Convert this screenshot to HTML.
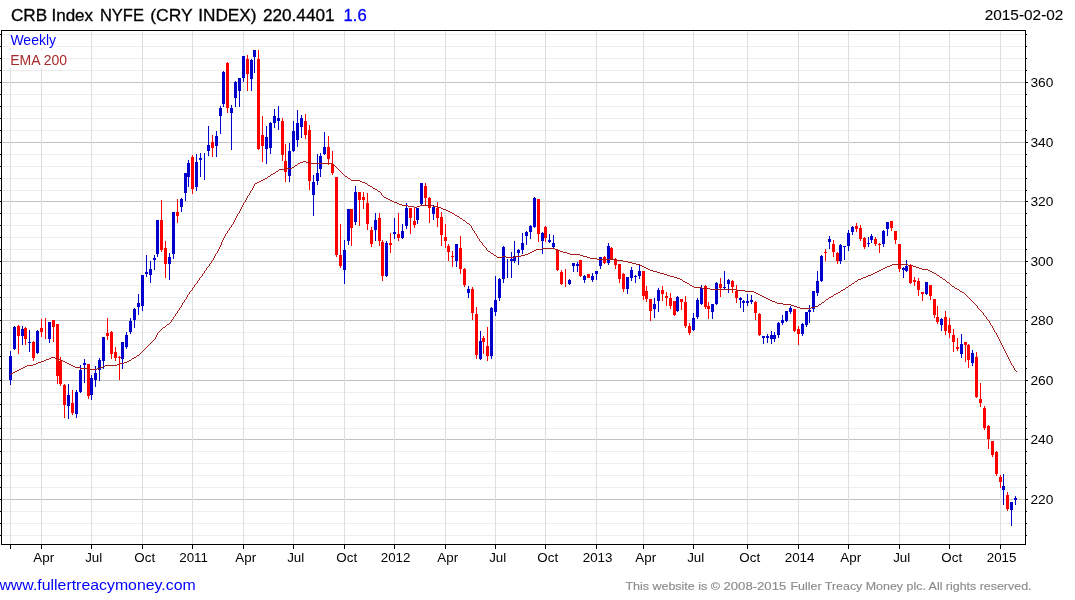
<!DOCTYPE html>
<html><head><meta charset="utf-8"><title>CRB Index NYFE (CRY INDEX)</title>
<style>html,body{margin:0;padding:0;background:#fff}body{width:1075px;height:600px;overflow:hidden;position:relative;font-family:"Liberation Sans",Arial,sans-serif}svg{position:absolute;left:0;top:0;display:block}text{font-family:"Liberation Sans",Arial,sans-serif}</style></head><body>
<svg width="1075" height="600" viewBox="0 0 1075 600">
<rect x="0" y="0" width="1075" height="600" fill="#fff"/>
<g shape-rendering="crispEdges">
<rect x="3" y="70" width="1021" height="1" fill="#ececec"/>
<rect x="3" y="58" width="1021" height="1" fill="#ececec"/>
<rect x="3" y="46" width="1021" height="1" fill="#ececec"/>
<rect x="3" y="34" width="1021" height="1" fill="#ececec"/>
<rect x="3" y="94" width="1021" height="1" fill="#ececec"/>
<rect x="3" y="106" width="1021" height="1" fill="#ececec"/>
<rect x="3" y="118" width="1021" height="1" fill="#ececec"/>
<rect x="3" y="130" width="1021" height="1" fill="#ececec"/>
<rect x="3" y="154" width="1021" height="1" fill="#ececec"/>
<rect x="3" y="166" width="1021" height="1" fill="#ececec"/>
<rect x="3" y="178" width="1021" height="1" fill="#ececec"/>
<rect x="3" y="190" width="1021" height="1" fill="#ececec"/>
<rect x="3" y="213" width="1021" height="1" fill="#ececec"/>
<rect x="3" y="225" width="1021" height="1" fill="#ececec"/>
<rect x="3" y="237" width="1021" height="1" fill="#ececec"/>
<rect x="3" y="249" width="1021" height="1" fill="#ececec"/>
<rect x="3" y="273" width="1021" height="1" fill="#ececec"/>
<rect x="3" y="285" width="1021" height="1" fill="#ececec"/>
<rect x="3" y="297" width="1021" height="1" fill="#ececec"/>
<rect x="3" y="309" width="1021" height="1" fill="#ececec"/>
<rect x="3" y="332" width="1021" height="1" fill="#ececec"/>
<rect x="3" y="344" width="1021" height="1" fill="#ececec"/>
<rect x="3" y="356" width="1021" height="1" fill="#ececec"/>
<rect x="3" y="368" width="1021" height="1" fill="#ececec"/>
<rect x="3" y="392" width="1021" height="1" fill="#ececec"/>
<rect x="3" y="404" width="1021" height="1" fill="#ececec"/>
<rect x="3" y="416" width="1021" height="1" fill="#ececec"/>
<rect x="3" y="428" width="1021" height="1" fill="#ececec"/>
<rect x="3" y="451" width="1021" height="1" fill="#ececec"/>
<rect x="3" y="463" width="1021" height="1" fill="#ececec"/>
<rect x="3" y="475" width="1021" height="1" fill="#ececec"/>
<rect x="3" y="487" width="1021" height="1" fill="#ececec"/>
<rect x="3" y="511" width="1021" height="1" fill="#ececec"/>
<rect x="3" y="523" width="1021" height="1" fill="#ececec"/>
<rect x="3" y="535" width="1021" height="1" fill="#ececec"/>
<rect x="2" y="82" width="1023" height="1" fill="#c2c2c2"/>
<rect x="2" y="142" width="1023" height="1" fill="#c2c2c2"/>
<rect x="2" y="201" width="1023" height="1" fill="#c2c2c2"/>
<rect x="2" y="261" width="1023" height="1" fill="#c2c2c2"/>
<rect x="2" y="320" width="1023" height="1" fill="#c2c2c2"/>
<rect x="2" y="380" width="1023" height="1" fill="#c2c2c2"/>
<rect x="2" y="439" width="1023" height="1" fill="#c2c2c2"/>
<rect x="2" y="499" width="1023" height="1" fill="#c2c2c2"/>
<rect x="10" y="31" width="1" height="513" fill="#dedede"/>
<rect x="41" y="31" width="1" height="513" fill="#dedede"/>
<rect x="91" y="31" width="1" height="513" fill="#dedede"/>
<rect x="142" y="31" width="1" height="513" fill="#dedede"/>
<rect x="192" y="31" width="1" height="513" fill="#dedede"/>
<rect x="243" y="31" width="1" height="513" fill="#dedede"/>
<rect x="293" y="31" width="1" height="513" fill="#dedede"/>
<rect x="344" y="31" width="1" height="513" fill="#dedede"/>
<rect x="394" y="31" width="1" height="513" fill="#dedede"/>
<rect x="445" y="31" width="1" height="513" fill="#dedede"/>
<rect x="495" y="31" width="1" height="513" fill="#dedede"/>
<rect x="545" y="31" width="1" height="513" fill="#dedede"/>
<rect x="596" y="31" width="1" height="513" fill="#dedede"/>
<rect x="643" y="31" width="1" height="513" fill="#dedede"/>
<rect x="693" y="31" width="1" height="513" fill="#dedede"/>
<rect x="747" y="31" width="1" height="513" fill="#dedede"/>
<rect x="798" y="31" width="1" height="513" fill="#dedede"/>
<rect x="848" y="31" width="1" height="513" fill="#dedede"/>
<rect x="899" y="31" width="1" height="513" fill="#dedede"/>
<rect x="949" y="31" width="1" height="513" fill="#dedede"/>
<rect x="1000" y="31" width="1" height="513" fill="#dedede"/>
</g>
<g shape-rendering="crispEdges">
<rect x="10" y="351" width="1" height="34" fill="#0000cd"/>
<rect x="9" y="356" width="3" height="24" fill="#0000cd"/>
<rect x="14" y="326" width="1" height="24" fill="#0000cd"/>
<rect x="13" y="327" width="3" height="22" fill="#0000cd"/>
<rect x="18" y="325" width="1" height="29" fill="#ff0000"/>
<rect x="17" y="326" width="3" height="10" fill="#ff0000"/>
<rect x="22" y="326" width="1" height="19" fill="#0000cd"/>
<rect x="21" y="329" width="3" height="7" fill="#0000cd"/>
<rect x="25" y="327" width="1" height="18" fill="#ff0000"/>
<rect x="24" y="328" width="3" height="11" fill="#ff0000"/>
<rect x="29" y="330" width="1" height="22" fill="#0000cd"/>
<rect x="28" y="342" width="3" height="1" fill="#0000cd"/>
<rect x="33" y="341" width="1" height="20" fill="#ff0000"/>
<rect x="32" y="342" width="3" height="16" fill="#ff0000"/>
<rect x="37" y="330" width="1" height="24" fill="#0000cd"/>
<rect x="36" y="331" width="3" height="22" fill="#0000cd"/>
<rect x="41" y="319" width="1" height="18" fill="#ff0000"/>
<rect x="40" y="328" width="3" height="4" fill="#ff0000"/>
<rect x="45" y="318" width="1" height="21" fill="#ff0000"/>
<rect x="49" y="322" width="1" height="21" fill="#0000cd"/>
<rect x="48" y="322" width="3" height="17" fill="#0000cd"/>
<rect x="53" y="320" width="1" height="22" fill="#ff0000"/>
<rect x="52" y="320" width="3" height="7" fill="#ff0000"/>
<rect x="57" y="324" width="1" height="60" fill="#ff0000"/>
<rect x="56" y="324" width="3" height="52" fill="#ff0000"/>
<rect x="60" y="357" width="1" height="29" fill="#ff0000"/>
<rect x="59" y="361" width="3" height="23" fill="#ff0000"/>
<rect x="64" y="384" width="1" height="34" fill="#ff0000"/>
<rect x="63" y="385" width="3" height="20" fill="#ff0000"/>
<rect x="68" y="384" width="1" height="35" fill="#0000cd"/>
<rect x="67" y="395" width="3" height="11" fill="#0000cd"/>
<rect x="72" y="390" width="1" height="25" fill="#ff0000"/>
<rect x="71" y="403" width="3" height="10" fill="#ff0000"/>
<rect x="76" y="390" width="1" height="28" fill="#0000cd"/>
<rect x="75" y="392" width="3" height="22" fill="#0000cd"/>
<rect x="80" y="365" width="1" height="28" fill="#0000cd"/>
<rect x="79" y="370" width="3" height="22" fill="#0000cd"/>
<rect x="84" y="359" width="1" height="24" fill="#0000cd"/>
<rect x="83" y="363" width="3" height="2" fill="#0000cd"/>
<rect x="88" y="364" width="1" height="35" fill="#ff0000"/>
<rect x="87" y="364" width="3" height="32" fill="#ff0000"/>
<rect x="91" y="375" width="1" height="25" fill="#0000cd"/>
<rect x="90" y="378" width="3" height="17" fill="#0000cd"/>
<rect x="95" y="366" width="1" height="21" fill="#0000cd"/>
<rect x="94" y="373" width="3" height="7" fill="#0000cd"/>
<rect x="99" y="358" width="1" height="23" fill="#0000cd"/>
<rect x="98" y="360" width="3" height="10" fill="#0000cd"/>
<rect x="103" y="337" width="1" height="32" fill="#0000cd"/>
<rect x="102" y="337" width="3" height="24" fill="#0000cd"/>
<rect x="107" y="318" width="1" height="22" fill="#ff0000"/>
<rect x="106" y="333" width="3" height="3" fill="#ff0000"/>
<rect x="111" y="331" width="1" height="28" fill="#ff0000"/>
<rect x="110" y="332" width="3" height="22" fill="#ff0000"/>
<rect x="115" y="347" width="1" height="14" fill="#ff0000"/>
<rect x="114" y="352" width="3" height="6" fill="#ff0000"/>
<rect x="119" y="356" width="1" height="24" fill="#ff0000"/>
<rect x="118" y="357" width="3" height="1" fill="#ff0000"/>
<rect x="122" y="342" width="1" height="27" fill="#0000cd"/>
<rect x="121" y="342" width="3" height="17" fill="#0000cd"/>
<rect x="126" y="332" width="1" height="17" fill="#0000cd"/>
<rect x="125" y="335" width="3" height="12" fill="#0000cd"/>
<rect x="130" y="318" width="1" height="16" fill="#0000cd"/>
<rect x="129" y="321" width="3" height="11" fill="#0000cd"/>
<rect x="134" y="308" width="1" height="20" fill="#0000cd"/>
<rect x="133" y="309" width="3" height="11" fill="#0000cd"/>
<rect x="138" y="294" width="1" height="21" fill="#0000cd"/>
<rect x="137" y="303" width="3" height="4" fill="#0000cd"/>
<rect x="142" y="275" width="1" height="36" fill="#0000cd"/>
<rect x="141" y="275" width="3" height="31" fill="#0000cd"/>
<rect x="146" y="255" width="1" height="22" fill="#0000cd"/>
<rect x="145" y="272" width="3" height="2" fill="#0000cd"/>
<rect x="150" y="261" width="1" height="22" fill="#0000cd"/>
<rect x="149" y="269" width="3" height="6" fill="#0000cd"/>
<rect x="154" y="255" width="1" height="15" fill="#0000cd"/>
<rect x="153" y="258" width="3" height="2" fill="#0000cd"/>
<rect x="157" y="220" width="1" height="37" fill="#0000cd"/>
<rect x="156" y="220" width="3" height="34" fill="#0000cd"/>
<rect x="161" y="200" width="1" height="52" fill="#ff0000"/>
<rect x="160" y="220" width="3" height="30" fill="#ff0000"/>
<rect x="165" y="241" width="1" height="37" fill="#ff0000"/>
<rect x="164" y="248" width="3" height="16" fill="#ff0000"/>
<rect x="169" y="253" width="1" height="27" fill="#0000cd"/>
<rect x="168" y="257" width="3" height="7" fill="#0000cd"/>
<rect x="173" y="212" width="1" height="47" fill="#0000cd"/>
<rect x="172" y="212" width="3" height="42" fill="#0000cd"/>
<rect x="177" y="199" width="1" height="24" fill="#ff0000"/>
<rect x="176" y="212" width="3" height="4" fill="#ff0000"/>
<rect x="181" y="198" width="1" height="14" fill="#0000cd"/>
<rect x="180" y="199" width="3" height="8" fill="#0000cd"/>
<rect x="185" y="173" width="1" height="28" fill="#0000cd"/>
<rect x="184" y="173" width="3" height="20" fill="#0000cd"/>
<rect x="188" y="160" width="1" height="27" fill="#0000cd"/>
<rect x="187" y="163" width="3" height="14" fill="#0000cd"/>
<rect x="192" y="155" width="1" height="39" fill="#ff0000"/>
<rect x="191" y="157" width="3" height="32" fill="#ff0000"/>
<rect x="196" y="154" width="1" height="37" fill="#0000cd"/>
<rect x="195" y="162" width="3" height="25" fill="#0000cd"/>
<rect x="200" y="153" width="1" height="24" fill="#0000cd"/>
<rect x="199" y="158" width="3" height="2" fill="#0000cd"/>
<rect x="204" y="153" width="1" height="27" fill="#0000cd"/>
<rect x="208" y="126" width="1" height="30" fill="#0000cd"/>
<rect x="207" y="145" width="3" height="6" fill="#0000cd"/>
<rect x="212" y="135" width="1" height="22" fill="#ff0000"/>
<rect x="211" y="142" width="3" height="6" fill="#ff0000"/>
<rect x="216" y="131" width="1" height="26" fill="#0000cd"/>
<rect x="215" y="136" width="3" height="10" fill="#0000cd"/>
<rect x="220" y="106" width="1" height="28" fill="#0000cd"/>
<rect x="219" y="108" width="3" height="8" fill="#0000cd"/>
<rect x="223" y="71" width="1" height="36" fill="#0000cd"/>
<rect x="222" y="72" width="3" height="32" fill="#0000cd"/>
<rect x="227" y="62" width="1" height="51" fill="#ff0000"/>
<rect x="226" y="63" width="3" height="45" fill="#ff0000"/>
<rect x="231" y="105" width="1" height="45" fill="#0000cd"/>
<rect x="230" y="108" width="3" height="5" fill="#0000cd"/>
<rect x="235" y="81" width="1" height="26" fill="#0000cd"/>
<rect x="234" y="82" width="3" height="16" fill="#0000cd"/>
<rect x="239" y="78" width="1" height="29" fill="#0000cd"/>
<rect x="238" y="78" width="3" height="13" fill="#0000cd"/>
<rect x="243" y="56" width="1" height="26" fill="#0000cd"/>
<rect x="242" y="56" width="3" height="22" fill="#0000cd"/>
<rect x="247" y="55" width="1" height="36" fill="#ff0000"/>
<rect x="246" y="59" width="3" height="15" fill="#ff0000"/>
<rect x="251" y="59" width="1" height="32" fill="#0000cd"/>
<rect x="250" y="60" width="3" height="19" fill="#0000cd"/>
<rect x="254" y="50" width="1" height="23" fill="#0000cd"/>
<rect x="253" y="50" width="3" height="7" fill="#0000cd"/>
<rect x="258" y="50" width="1" height="100" fill="#ff0000"/>
<rect x="257" y="59" width="3" height="90" fill="#ff0000"/>
<rect x="262" y="116" width="1" height="46" fill="#ff0000"/>
<rect x="261" y="135" width="3" height="11" fill="#ff0000"/>
<rect x="266" y="126" width="1" height="38" fill="#0000cd"/>
<rect x="265" y="137" width="3" height="12" fill="#0000cd"/>
<rect x="270" y="122" width="1" height="32" fill="#0000cd"/>
<rect x="269" y="123" width="3" height="25" fill="#0000cd"/>
<rect x="274" y="109" width="1" height="19" fill="#0000cd"/>
<rect x="273" y="116" width="3" height="7" fill="#0000cd"/>
<rect x="278" y="106" width="1" height="24" fill="#0000cd"/>
<rect x="277" y="118" width="3" height="3" fill="#0000cd"/>
<rect x="282" y="118" width="1" height="43" fill="#ff0000"/>
<rect x="281" y="121" width="3" height="34" fill="#ff0000"/>
<rect x="285" y="144" width="1" height="38" fill="#ff0000"/>
<rect x="284" y="161" width="3" height="11" fill="#ff0000"/>
<rect x="289" y="143" width="1" height="39" fill="#0000cd"/>
<rect x="288" y="151" width="3" height="25" fill="#0000cd"/>
<rect x="293" y="121" width="1" height="31" fill="#0000cd"/>
<rect x="292" y="131" width="3" height="20" fill="#0000cd"/>
<rect x="297" y="110" width="1" height="37" fill="#0000cd"/>
<rect x="296" y="123" width="3" height="17" fill="#0000cd"/>
<rect x="301" y="115" width="1" height="23" fill="#0000cd"/>
<rect x="300" y="118" width="3" height="9" fill="#0000cd"/>
<rect x="305" y="114" width="1" height="25" fill="#ff0000"/>
<rect x="304" y="121" width="3" height="14" fill="#ff0000"/>
<rect x="309" y="125" width="1" height="65" fill="#ff0000"/>
<rect x="308" y="130" width="3" height="51" fill="#ff0000"/>
<rect x="313" y="175" width="1" height="41" fill="#0000cd"/>
<rect x="312" y="182" width="3" height="13" fill="#0000cd"/>
<rect x="317" y="154" width="1" height="31" fill="#0000cd"/>
<rect x="316" y="173" width="3" height="8" fill="#0000cd"/>
<rect x="320" y="153" width="1" height="24" fill="#0000cd"/>
<rect x="319" y="156" width="3" height="13" fill="#0000cd"/>
<rect x="324" y="132" width="1" height="23" fill="#0000cd"/>
<rect x="323" y="147" width="3" height="7" fill="#0000cd"/>
<rect x="328" y="136" width="1" height="29" fill="#ff0000"/>
<rect x="327" y="147" width="3" height="12" fill="#ff0000"/>
<rect x="332" y="151" width="1" height="24" fill="#ff0000"/>
<rect x="331" y="164" width="3" height="9" fill="#ff0000"/>
<rect x="336" y="177" width="1" height="80" fill="#ff0000"/>
<rect x="335" y="177" width="3" height="78" fill="#ff0000"/>
<rect x="340" y="224" width="1" height="44" fill="#ff0000"/>
<rect x="339" y="255" width="3" height="11" fill="#ff0000"/>
<rect x="344" y="240" width="1" height="44" fill="#0000cd"/>
<rect x="343" y="250" width="3" height="20" fill="#0000cd"/>
<rect x="348" y="209" width="1" height="36" fill="#0000cd"/>
<rect x="347" y="209" width="3" height="32" fill="#0000cd"/>
<rect x="351" y="209" width="1" height="37" fill="#ff0000"/>
<rect x="350" y="209" width="3" height="19" fill="#ff0000"/>
<rect x="355" y="186" width="1" height="39" fill="#0000cd"/>
<rect x="354" y="192" width="3" height="30" fill="#0000cd"/>
<rect x="359" y="192" width="1" height="34" fill="#ff0000"/>
<rect x="358" y="192" width="3" height="8" fill="#ff0000"/>
<rect x="363" y="192" width="1" height="17" fill="#ff0000"/>
<rect x="362" y="197" width="3" height="3" fill="#ff0000"/>
<rect x="367" y="193" width="1" height="37" fill="#ff0000"/>
<rect x="366" y="203" width="3" height="21" fill="#ff0000"/>
<rect x="371" y="227" width="1" height="20" fill="#ff0000"/>
<rect x="370" y="230" width="3" height="14" fill="#ff0000"/>
<rect x="375" y="213" width="1" height="28" fill="#0000cd"/>
<rect x="374" y="220" width="3" height="10" fill="#0000cd"/>
<rect x="379" y="213" width="1" height="33" fill="#ff0000"/>
<rect x="378" y="218" width="3" height="23" fill="#ff0000"/>
<rect x="382" y="240" width="1" height="41" fill="#ff0000"/>
<rect x="381" y="242" width="3" height="34" fill="#ff0000"/>
<rect x="386" y="241" width="1" height="36" fill="#0000cd"/>
<rect x="385" y="243" width="3" height="33" fill="#0000cd"/>
<rect x="390" y="233" width="1" height="20" fill="#ff0000"/>
<rect x="389" y="243" width="3" height="2" fill="#ff0000"/>
<rect x="394" y="218" width="1" height="21" fill="#0000cd"/>
<rect x="393" y="232" width="3" height="2" fill="#0000cd"/>
<rect x="398" y="213" width="1" height="28" fill="#ff0000"/>
<rect x="397" y="234" width="3" height="4" fill="#ff0000"/>
<rect x="402" y="224" width="1" height="15" fill="#0000cd"/>
<rect x="401" y="231" width="3" height="7" fill="#0000cd"/>
<rect x="406" y="203" width="1" height="26" fill="#0000cd"/>
<rect x="405" y="208" width="3" height="18" fill="#0000cd"/>
<rect x="410" y="208" width="1" height="26" fill="#ff0000"/>
<rect x="409" y="208" width="3" height="10" fill="#ff0000"/>
<rect x="414" y="208" width="1" height="20" fill="#ff0000"/>
<rect x="413" y="221" width="3" height="4" fill="#ff0000"/>
<rect x="417" y="208" width="1" height="16" fill="#0000cd"/>
<rect x="416" y="208" width="3" height="12" fill="#0000cd"/>
<rect x="421" y="183" width="1" height="23" fill="#0000cd"/>
<rect x="420" y="183" width="3" height="21" fill="#0000cd"/>
<rect x="425" y="183" width="1" height="22" fill="#ff0000"/>
<rect x="424" y="186" width="3" height="12" fill="#ff0000"/>
<rect x="429" y="197" width="1" height="26" fill="#ff0000"/>
<rect x="428" y="198" width="3" height="10" fill="#ff0000"/>
<rect x="433" y="205" width="1" height="15" fill="#0000cd"/>
<rect x="432" y="207" width="3" height="7" fill="#0000cd"/>
<rect x="437" y="202" width="1" height="25" fill="#ff0000"/>
<rect x="436" y="208" width="3" height="10" fill="#ff0000"/>
<rect x="441" y="212" width="1" height="34" fill="#ff0000"/>
<rect x="440" y="217" width="3" height="18" fill="#ff0000"/>
<rect x="445" y="224" width="1" height="24" fill="#ff0000"/>
<rect x="444" y="237" width="3" height="4" fill="#ff0000"/>
<rect x="448" y="244" width="1" height="17" fill="#ff0000"/>
<rect x="447" y="246" width="3" height="6" fill="#ff0000"/>
<rect x="452" y="251" width="1" height="16" fill="#ff0000"/>
<rect x="451" y="256" width="3" height="1" fill="#ff0000"/>
<rect x="456" y="244" width="1" height="23" fill="#0000cd"/>
<rect x="455" y="244" width="3" height="17" fill="#0000cd"/>
<rect x="460" y="236" width="1" height="38" fill="#ff0000"/>
<rect x="459" y="248" width="3" height="21" fill="#ff0000"/>
<rect x="464" y="268" width="1" height="19" fill="#ff0000"/>
<rect x="463" y="269" width="3" height="16" fill="#ff0000"/>
<rect x="468" y="286" width="1" height="12" fill="#0000cd"/>
<rect x="467" y="289" width="3" height="4" fill="#0000cd"/>
<rect x="472" y="287" width="1" height="33" fill="#ff0000"/>
<rect x="471" y="289" width="3" height="24" fill="#ff0000"/>
<rect x="476" y="307" width="1" height="52" fill="#ff0000"/>
<rect x="475" y="314" width="3" height="41" fill="#ff0000"/>
<rect x="480" y="331" width="1" height="29" fill="#0000cd"/>
<rect x="479" y="341" width="3" height="18" fill="#0000cd"/>
<rect x="483" y="336" width="1" height="18" fill="#ff0000"/>
<rect x="482" y="338" width="3" height="4" fill="#ff0000"/>
<rect x="487" y="327" width="1" height="34" fill="#ff0000"/>
<rect x="486" y="346" width="3" height="10" fill="#ff0000"/>
<rect x="491" y="307" width="1" height="52" fill="#0000cd"/>
<rect x="490" y="308" width="3" height="48" fill="#0000cd"/>
<rect x="495" y="276" width="1" height="40" fill="#0000cd"/>
<rect x="494" y="300" width="3" height="12" fill="#0000cd"/>
<rect x="499" y="278" width="1" height="23" fill="#0000cd"/>
<rect x="498" y="279" width="3" height="19" fill="#0000cd"/>
<rect x="503" y="246" width="1" height="37" fill="#0000cd"/>
<rect x="502" y="247" width="3" height="32" fill="#0000cd"/>
<rect x="507" y="259" width="1" height="19" fill="#0000cd"/>
<rect x="511" y="252" width="1" height="26" fill="#0000cd"/>
<rect x="510" y="259" width="3" height="2" fill="#0000cd"/>
<rect x="514" y="241" width="1" height="22" fill="#0000cd"/>
<rect x="513" y="256" width="3" height="5" fill="#0000cd"/>
<rect x="518" y="249" width="1" height="16" fill="#0000cd"/>
<rect x="517" y="250" width="3" height="3" fill="#0000cd"/>
<rect x="522" y="233" width="1" height="21" fill="#0000cd"/>
<rect x="521" y="243" width="3" height="7" fill="#0000cd"/>
<rect x="526" y="231" width="1" height="14" fill="#0000cd"/>
<rect x="525" y="232" width="3" height="4" fill="#0000cd"/>
<rect x="530" y="225" width="1" height="14" fill="#0000cd"/>
<rect x="529" y="226" width="3" height="6" fill="#0000cd"/>
<rect x="534" y="197" width="1" height="31" fill="#0000cd"/>
<rect x="533" y="198" width="3" height="29" fill="#0000cd"/>
<rect x="538" y="199" width="1" height="43" fill="#ff0000"/>
<rect x="537" y="199" width="3" height="35" fill="#ff0000"/>
<rect x="542" y="232" width="1" height="22" fill="#0000cd"/>
<rect x="541" y="233" width="3" height="8" fill="#0000cd"/>
<rect x="545" y="226" width="1" height="16" fill="#ff0000"/>
<rect x="544" y="227" width="3" height="11" fill="#ff0000"/>
<rect x="549" y="234" width="1" height="9" fill="#0000cd"/>
<rect x="548" y="240" width="3" height="2" fill="#0000cd"/>
<rect x="553" y="235" width="1" height="13" fill="#0000cd"/>
<rect x="552" y="243" width="3" height="4" fill="#0000cd"/>
<rect x="557" y="249" width="1" height="22" fill="#ff0000"/>
<rect x="556" y="250" width="3" height="20" fill="#ff0000"/>
<rect x="561" y="270" width="1" height="15" fill="#ff0000"/>
<rect x="560" y="272" width="3" height="12" fill="#ff0000"/>
<rect x="565" y="269" width="1" height="18" fill="#ff0000"/>
<rect x="569" y="279" width="1" height="6" fill="#0000cd"/>
<rect x="568" y="280" width="3" height="4" fill="#0000cd"/>
<rect x="573" y="263" width="1" height="9" fill="#0000cd"/>
<rect x="572" y="263" width="3" height="3" fill="#0000cd"/>
<rect x="577" y="262" width="1" height="10" fill="#0000cd"/>
<rect x="576" y="264" width="3" height="2" fill="#0000cd"/>
<rect x="580" y="260" width="1" height="17" fill="#ff0000"/>
<rect x="579" y="260" width="3" height="16" fill="#ff0000"/>
<rect x="584" y="275" width="1" height="8" fill="#0000cd"/>
<rect x="583" y="276" width="3" height="4" fill="#0000cd"/>
<rect x="588" y="274" width="1" height="4" fill="#ff0000"/>
<rect x="587" y="274" width="3" height="4" fill="#ff0000"/>
<rect x="592" y="273" width="1" height="9" fill="#0000cd"/>
<rect x="591" y="276" width="3" height="4" fill="#0000cd"/>
<rect x="596" y="271" width="1" height="9" fill="#0000cd"/>
<rect x="595" y="271" width="3" height="3" fill="#0000cd"/>
<rect x="600" y="257" width="1" height="12" fill="#0000cd"/>
<rect x="599" y="257" width="3" height="9" fill="#0000cd"/>
<rect x="604" y="256" width="1" height="8" fill="#ff0000"/>
<rect x="603" y="257" width="3" height="6" fill="#ff0000"/>
<rect x="608" y="243" width="1" height="22" fill="#0000cd"/>
<rect x="607" y="246" width="3" height="17" fill="#0000cd"/>
<rect x="611" y="247" width="1" height="13" fill="#ff0000"/>
<rect x="610" y="248" width="3" height="11" fill="#ff0000"/>
<rect x="615" y="258" width="1" height="11" fill="#ff0000"/>
<rect x="614" y="259" width="3" height="6" fill="#ff0000"/>
<rect x="619" y="264" width="1" height="19" fill="#ff0000"/>
<rect x="618" y="264" width="3" height="15" fill="#ff0000"/>
<rect x="623" y="273" width="1" height="19" fill="#ff0000"/>
<rect x="622" y="274" width="3" height="15" fill="#ff0000"/>
<rect x="627" y="277" width="1" height="17" fill="#0000cd"/>
<rect x="626" y="277" width="3" height="12" fill="#0000cd"/>
<rect x="631" y="267" width="1" height="14" fill="#0000cd"/>
<rect x="630" y="270" width="3" height="8" fill="#0000cd"/>
<rect x="635" y="275" width="1" height="8" fill="#0000cd"/>
<rect x="634" y="276" width="3" height="1" fill="#0000cd"/>
<rect x="639" y="265" width="1" height="14" fill="#0000cd"/>
<rect x="638" y="271" width="3" height="5" fill="#0000cd"/>
<rect x="643" y="271" width="1" height="29" fill="#ff0000"/>
<rect x="642" y="271" width="3" height="25" fill="#ff0000"/>
<rect x="646" y="286" width="1" height="16" fill="#ff0000"/>
<rect x="645" y="291" width="3" height="8" fill="#ff0000"/>
<rect x="650" y="299" width="1" height="22" fill="#ff0000"/>
<rect x="649" y="299" width="3" height="12" fill="#ff0000"/>
<rect x="654" y="298" width="1" height="20" fill="#0000cd"/>
<rect x="653" y="304" width="3" height="5" fill="#0000cd"/>
<rect x="658" y="288" width="1" height="24" fill="#0000cd"/>
<rect x="657" y="290" width="3" height="11" fill="#0000cd"/>
<rect x="662" y="286" width="1" height="15" fill="#ff0000"/>
<rect x="661" y="290" width="3" height="4" fill="#ff0000"/>
<rect x="666" y="292" width="1" height="14" fill="#ff0000"/>
<rect x="665" y="296" width="3" height="2" fill="#ff0000"/>
<rect x="670" y="293" width="1" height="16" fill="#ff0000"/>
<rect x="669" y="298" width="3" height="8" fill="#ff0000"/>
<rect x="674" y="301" width="1" height="15" fill="#ff0000"/>
<rect x="673" y="301" width="3" height="14" fill="#ff0000"/>
<rect x="677" y="296" width="1" height="16" fill="#0000cd"/>
<rect x="676" y="297" width="3" height="14" fill="#0000cd"/>
<rect x="681" y="299" width="1" height="11" fill="#ff0000"/>
<rect x="680" y="299" width="3" height="3" fill="#ff0000"/>
<rect x="685" y="296" width="1" height="32" fill="#ff0000"/>
<rect x="684" y="302" width="3" height="24" fill="#ff0000"/>
<rect x="689" y="323" width="1" height="12" fill="#ff0000"/>
<rect x="688" y="326" width="3" height="7" fill="#ff0000"/>
<rect x="693" y="313" width="1" height="18" fill="#0000cd"/>
<rect x="692" y="318" width="3" height="12" fill="#0000cd"/>
<rect x="697" y="298" width="1" height="21" fill="#0000cd"/>
<rect x="696" y="300" width="3" height="17" fill="#0000cd"/>
<rect x="701" y="285" width="1" height="20" fill="#0000cd"/>
<rect x="700" y="288" width="3" height="16" fill="#0000cd"/>
<rect x="705" y="285" width="1" height="24" fill="#ff0000"/>
<rect x="704" y="286" width="3" height="21" fill="#ff0000"/>
<rect x="708" y="302" width="1" height="17" fill="#ff0000"/>
<rect x="707" y="306" width="3" height="3" fill="#ff0000"/>
<rect x="712" y="304" width="1" height="15" fill="#0000cd"/>
<rect x="711" y="304" width="3" height="8" fill="#0000cd"/>
<rect x="716" y="282" width="1" height="23" fill="#0000cd"/>
<rect x="715" y="283" width="3" height="21" fill="#0000cd"/>
<rect x="720" y="278" width="1" height="19" fill="#ff0000"/>
<rect x="719" y="284" width="3" height="4" fill="#ff0000"/>
<rect x="724" y="271" width="1" height="18" fill="#0000cd"/>
<rect x="723" y="287" width="3" height="1" fill="#0000cd"/>
<rect x="728" y="279" width="1" height="14" fill="#0000cd"/>
<rect x="727" y="280" width="3" height="4" fill="#0000cd"/>
<rect x="732" y="280" width="1" height="13" fill="#ff0000"/>
<rect x="731" y="281" width="3" height="6" fill="#ff0000"/>
<rect x="736" y="285" width="1" height="18" fill="#ff0000"/>
<rect x="735" y="291" width="3" height="7" fill="#ff0000"/>
<rect x="740" y="297" width="1" height="11" fill="#0000cd"/>
<rect x="739" y="298" width="3" height="2" fill="#0000cd"/>
<rect x="743" y="300" width="1" height="12" fill="#0000cd"/>
<rect x="742" y="301" width="3" height="2" fill="#0000cd"/>
<rect x="747" y="294" width="1" height="12" fill="#0000cd"/>
<rect x="746" y="301" width="3" height="2" fill="#0000cd"/>
<rect x="751" y="295" width="1" height="9" fill="#0000cd"/>
<rect x="750" y="300" width="3" height="2" fill="#0000cd"/>
<rect x="755" y="301" width="1" height="19" fill="#ff0000"/>
<rect x="754" y="302" width="3" height="11" fill="#ff0000"/>
<rect x="759" y="313" width="1" height="23" fill="#ff0000"/>
<rect x="758" y="314" width="3" height="21" fill="#ff0000"/>
<rect x="763" y="336" width="1" height="8" fill="#0000cd"/>
<rect x="762" y="336" width="3" height="2" fill="#0000cd"/>
<rect x="767" y="334" width="1" height="9" fill="#0000cd"/>
<rect x="766" y="336" width="3" height="2" fill="#0000cd"/>
<rect x="771" y="331" width="1" height="13" fill="#0000cd"/>
<rect x="770" y="335" width="3" height="4" fill="#0000cd"/>
<rect x="774" y="332" width="1" height="10" fill="#0000cd"/>
<rect x="773" y="335" width="3" height="4" fill="#0000cd"/>
<rect x="778" y="322" width="1" height="16" fill="#0000cd"/>
<rect x="777" y="323" width="3" height="12" fill="#0000cd"/>
<rect x="782" y="315" width="1" height="10" fill="#0000cd"/>
<rect x="781" y="320" width="3" height="3" fill="#0000cd"/>
<rect x="786" y="311" width="1" height="11" fill="#0000cd"/>
<rect x="785" y="311" width="3" height="10" fill="#0000cd"/>
<rect x="790" y="306" width="1" height="8" fill="#0000cd"/>
<rect x="789" y="308" width="3" height="4" fill="#0000cd"/>
<rect x="794" y="309" width="1" height="23" fill="#ff0000"/>
<rect x="793" y="309" width="3" height="22" fill="#ff0000"/>
<rect x="798" y="326" width="1" height="19" fill="#ff0000"/>
<rect x="797" y="329" width="3" height="5" fill="#ff0000"/>
<rect x="802" y="323" width="1" height="13" fill="#0000cd"/>
<rect x="801" y="324" width="3" height="10" fill="#0000cd"/>
<rect x="806" y="312" width="1" height="15" fill="#0000cd"/>
<rect x="805" y="312" width="3" height="13" fill="#0000cd"/>
<rect x="809" y="305" width="1" height="18" fill="#0000cd"/>
<rect x="808" y="310" width="3" height="2" fill="#0000cd"/>
<rect x="813" y="291" width="1" height="21" fill="#0000cd"/>
<rect x="812" y="291" width="3" height="18" fill="#0000cd"/>
<rect x="817" y="271" width="1" height="25" fill="#0000cd"/>
<rect x="816" y="281" width="3" height="12" fill="#0000cd"/>
<rect x="821" y="255" width="1" height="27" fill="#0000cd"/>
<rect x="820" y="256" width="3" height="25" fill="#0000cd"/>
<rect x="825" y="249" width="1" height="12" fill="#ff0000"/>
<rect x="824" y="252" width="3" height="1" fill="#ff0000"/>
<rect x="829" y="236" width="1" height="13" fill="#0000cd"/>
<rect x="828" y="239" width="3" height="3" fill="#0000cd"/>
<rect x="833" y="240" width="1" height="17" fill="#ff0000"/>
<rect x="832" y="244" width="3" height="8" fill="#ff0000"/>
<rect x="837" y="252" width="1" height="12" fill="#ff0000"/>
<rect x="836" y="253" width="3" height="8" fill="#ff0000"/>
<rect x="840" y="244" width="1" height="20" fill="#0000cd"/>
<rect x="839" y="245" width="3" height="16" fill="#0000cd"/>
<rect x="844" y="246" width="1" height="14" fill="#0000cd"/>
<rect x="843" y="246" width="3" height="1" fill="#0000cd"/>
<rect x="848" y="230" width="1" height="21" fill="#0000cd"/>
<rect x="847" y="233" width="3" height="13" fill="#0000cd"/>
<rect x="852" y="226" width="1" height="9" fill="#0000cd"/>
<rect x="851" y="227" width="3" height="5" fill="#0000cd"/>
<rect x="856" y="223" width="1" height="9" fill="#ff0000"/>
<rect x="855" y="226" width="3" height="3" fill="#ff0000"/>
<rect x="860" y="225" width="1" height="16" fill="#ff0000"/>
<rect x="859" y="228" width="3" height="11" fill="#ff0000"/>
<rect x="864" y="237" width="1" height="12" fill="#ff0000"/>
<rect x="863" y="238" width="3" height="9" fill="#ff0000"/>
<rect x="868" y="237" width="1" height="10" fill="#0000cd"/>
<rect x="867" y="243" width="3" height="1" fill="#0000cd"/>
<rect x="871" y="234" width="1" height="9" fill="#0000cd"/>
<rect x="870" y="236" width="3" height="4" fill="#0000cd"/>
<rect x="875" y="237" width="1" height="9" fill="#ff0000"/>
<rect x="874" y="239" width="3" height="5" fill="#ff0000"/>
<rect x="879" y="243" width="1" height="10" fill="#ff0000"/>
<rect x="878" y="244" width="3" height="1" fill="#ff0000"/>
<rect x="883" y="230" width="1" height="17" fill="#0000cd"/>
<rect x="882" y="231" width="3" height="13" fill="#0000cd"/>
<rect x="887" y="222" width="1" height="14" fill="#0000cd"/>
<rect x="886" y="222" width="3" height="7" fill="#0000cd"/>
<rect x="891" y="221" width="1" height="10" fill="#ff0000"/>
<rect x="890" y="221" width="3" height="7" fill="#ff0000"/>
<rect x="895" y="231" width="1" height="13" fill="#ff0000"/>
<rect x="894" y="231" width="3" height="9" fill="#ff0000"/>
<rect x="899" y="244" width="1" height="28" fill="#ff0000"/>
<rect x="898" y="244" width="3" height="25" fill="#ff0000"/>
<rect x="903" y="267" width="1" height="11" fill="#0000cd"/>
<rect x="902" y="268" width="3" height="2" fill="#0000cd"/>
<rect x="906" y="260" width="1" height="12" fill="#0000cd"/>
<rect x="905" y="266" width="3" height="5" fill="#0000cd"/>
<rect x="910" y="264" width="1" height="20" fill="#ff0000"/>
<rect x="909" y="265" width="3" height="18" fill="#ff0000"/>
<rect x="914" y="277" width="1" height="9" fill="#ff0000"/>
<rect x="913" y="280" width="3" height="2" fill="#ff0000"/>
<rect x="918" y="278" width="1" height="18" fill="#ff0000"/>
<rect x="917" y="281" width="3" height="9" fill="#ff0000"/>
<rect x="922" y="292" width="1" height="9" fill="#ff0000"/>
<rect x="921" y="292" width="3" height="2" fill="#ff0000"/>
<rect x="926" y="282" width="1" height="13" fill="#0000cd"/>
<rect x="925" y="282" width="3" height="12" fill="#0000cd"/>
<rect x="930" y="285" width="1" height="15" fill="#ff0000"/>
<rect x="929" y="285" width="3" height="11" fill="#ff0000"/>
<rect x="934" y="299" width="1" height="19" fill="#ff0000"/>
<rect x="933" y="299" width="3" height="16" fill="#ff0000"/>
<rect x="937" y="306" width="1" height="18" fill="#ff0000"/>
<rect x="936" y="317" width="3" height="5" fill="#ff0000"/>
<rect x="941" y="318" width="1" height="13" fill="#0000cd"/>
<rect x="940" y="319" width="3" height="6" fill="#0000cd"/>
<rect x="945" y="311" width="1" height="24" fill="#ff0000"/>
<rect x="944" y="317" width="3" height="14" fill="#ff0000"/>
<rect x="949" y="318" width="1" height="20" fill="#ff0000"/>
<rect x="948" y="325" width="3" height="8" fill="#ff0000"/>
<rect x="953" y="329" width="1" height="23" fill="#ff0000"/>
<rect x="952" y="335" width="3" height="7" fill="#ff0000"/>
<rect x="957" y="338" width="1" height="13" fill="#ff0000"/>
<rect x="956" y="347" width="3" height="2" fill="#ff0000"/>
<rect x="961" y="334" width="1" height="24" fill="#0000cd"/>
<rect x="960" y="344" width="3" height="10" fill="#0000cd"/>
<rect x="965" y="342" width="1" height="20" fill="#ff0000"/>
<rect x="964" y="342" width="3" height="3" fill="#ff0000"/>
<rect x="968" y="344" width="1" height="24" fill="#ff0000"/>
<rect x="967" y="345" width="3" height="15" fill="#ff0000"/>
<rect x="972" y="350" width="1" height="16" fill="#0000cd"/>
<rect x="971" y="353" width="3" height="10" fill="#0000cd"/>
<rect x="976" y="352" width="1" height="46" fill="#ff0000"/>
<rect x="975" y="357" width="3" height="40" fill="#ff0000"/>
<rect x="980" y="383" width="1" height="24" fill="#ff0000"/>
<rect x="979" y="399" width="3" height="4" fill="#ff0000"/>
<rect x="984" y="406" width="1" height="24" fill="#ff0000"/>
<rect x="983" y="408" width="3" height="20" fill="#ff0000"/>
<rect x="988" y="425" width="1" height="24" fill="#ff0000"/>
<rect x="987" y="426" width="3" height="13" fill="#ff0000"/>
<rect x="992" y="441" width="1" height="16" fill="#ff0000"/>
<rect x="991" y="441" width="3" height="14" fill="#ff0000"/>
<rect x="996" y="451" width="1" height="25" fill="#ff0000"/>
<rect x="995" y="452" width="3" height="22" fill="#ff0000"/>
<rect x="1000" y="475" width="1" height="13" fill="#ff0000"/>
<rect x="999" y="477" width="3" height="5" fill="#ff0000"/>
<rect x="1003" y="474" width="1" height="31" fill="#0000cd"/>
<rect x="1002" y="486" width="3" height="4" fill="#0000cd"/>
<rect x="1007" y="492" width="1" height="19" fill="#ff0000"/>
<rect x="1006" y="495" width="3" height="14" fill="#ff0000"/>
<rect x="1011" y="502" width="1" height="24" fill="#0000cd"/>
<rect x="1010" y="502" width="3" height="8" fill="#0000cd"/>
<rect x="1015" y="496" width="1" height="9" fill="#0000cd"/>
<rect x="1014" y="498" width="3" height="2" fill="#0000cd"/>
</g>
<path d="M10 374h1v1h-1zM11 373h1v1h-1zM12 373h1v1h-1zM13 372h1v1h-1zM14 372h1v1h-1zM15 371h1v1h-1zM16 371h1v1h-1zM17 370h1v1h-1zM18 370h1v1h-1zM19 369h1v1h-1zM20 369h1v1h-1zM21 368h1v1h-1zM22 368h1v1h-1zM23 367h1v1h-1zM24 367h1v1h-1zM25 366h1v1h-1zM26 366h1v1h-1zM27 365h1v1h-1zM28 365h1v1h-1zM29 365h1v1h-1zM30 365h1v1h-1zM31 365h1v1h-1zM32 365h1v1h-1zM33 364h1v1h-1zM34 364h1v1h-1zM35 364h1v1h-1zM36 363h1v1h-1zM37 363h1v1h-1zM38 362h1v1h-1zM39 362h1v1h-1zM40 362h1v1h-1zM41 361h1v1h-1zM42 361h1v1h-1zM43 361h1v1h-1zM44 360h1v1h-1zM45 360h1v1h-1zM46 359h1v1h-1zM47 359h1v1h-1zM48 359h1v1h-1zM49 358h1v1h-1zM50 358h1v1h-1zM51 357h1v1h-1zM52 357h1v1h-1zM53 357h1v1h-1zM54 357h1v1h-1zM55 358h1v1h-1zM56 358h1v1h-1zM57 358h1v1h-1zM58 358h1v1h-1zM59 359h1v1h-1zM60 359h1v1h-1zM61 360h1v1h-1zM62 360h1v1h-1zM63 361h1v1h-1zM64 361h1v1h-1zM65 362h1v1h-1zM66 362h1v1h-1zM67 363h1v1h-1zM68 363h1v1h-1zM69 364h1v1h-1zM70 364h1v1h-1zM71 365h1v1h-1zM72 365h1v1h-1zM73 366h1v1h-1zM74 366h1v1h-1zM75 367h1v1h-1zM76 367h1v1h-1zM77 367h1v1h-1zM78 367h1v1h-1zM79 367h1v1h-1zM80 368h1v1h-1zM81 368h1v1h-1zM82 368h1v1h-1zM83 368h1v1h-1zM84 368h1v1h-1zM85 368h1v1h-1zM86 368h1v1h-1zM87 368h1v1h-1zM88 369h1v1h-1zM89 369h1v1h-1zM90 369h1v1h-1zM91 369h1v1h-1zM92 369h1v1h-1zM93 369h1v1h-1zM94 369h1v1h-1zM95 369h1v1h-1zM96 369h1v1h-1zM97 368h1v1h-1zM98 368h1v1h-1zM99 368h1v1h-1zM100 367h1v1h-1zM101 367h1v1h-1zM102 367h1v1h-1zM103 366h1v1h-1zM104 366h1v1h-1zM105 365h1v1h-1zM106 365h1v1h-1zM107 365h1v1h-1zM108 365h1v1h-1zM109 365h1v1h-1zM110 365h1v1h-1zM111 365h1v1h-1zM112 365h1v1h-1zM113 365h1v1h-1zM114 365h1v1h-1zM115 365h1v1h-1zM116 365h1v1h-1zM117 364h1v1h-1zM118 364h1v1h-1zM119 364h1v1h-1zM120 363h1v1h-1zM121 363h1v1h-1zM122 363h1v1h-1zM123 363h1v1h-1zM124 362h1v1h-1zM125 362h1v1h-1zM126 362h1v1h-1zM127 361h1v1h-1zM128 361h1v1h-1zM129 360h1v1h-1zM130 360h1v1h-1zM131 359h1v1h-1zM132 358h1v1h-1zM133 358h1v1h-1zM134 357h1v1h-1zM135 357h1v1h-1zM136 356h1v1h-1zM137 355h1v1h-1zM138 355h1v1h-1zM139 354h1v1h-1zM140 353h1v1h-1zM141 352h1v1h-1zM142 351h1v1h-1zM143 350h1v1h-1zM144 349h1v1h-1zM145 348h1v1h-1zM146 347h1v1h-1zM147 346h1v1h-1zM148 345h1v1h-1zM149 344h1v1h-1zM150 343h1v1h-1zM151 342h1v1h-1zM152 341h1v1h-1zM153 340h1v1h-1zM154 339h1v1h-1zM155 337h1v2h-1zM156 335h1v2h-1zM157 333h1v2h-1zM158 332h1v1h-1zM159 331h1v1h-1zM160 330h1v1h-1zM161 329h1v1h-1zM162 328h1v1h-1zM163 327h1v1h-1zM164 327h1v1h-1zM165 326h1v1h-1zM166 325h1v1h-1zM167 324h1v1h-1zM168 324h1v1h-1zM169 323h1v1h-1zM170 322h1v1h-1zM171 320h1v2h-1zM172 319h1v1h-1zM173 317h1v2h-1zM174 316h1v1h-1zM175 314h1v2h-1zM176 313h1v1h-1zM177 311h1v2h-1zM178 310h1v1h-1zM179 308h1v2h-1zM180 307h1v1h-1zM181 305h1v2h-1zM182 303h1v2h-1zM183 302h1v1h-1zM184 300h1v2h-1zM185 299h1v1h-1zM186 297h1v2h-1zM187 295h1v2h-1zM188 294h1v1h-1zM189 292h1v2h-1zM190 291h1v1h-1zM191 290h1v1h-1zM192 288h1v2h-1zM193 287h1v1h-1zM194 285h1v2h-1zM195 284h1v1h-1zM196 283h1v1h-1zM197 281h1v2h-1zM198 280h1v1h-1zM199 278h1v2h-1zM200 277h1v1h-1zM201 276h1v1h-1zM202 274h1v2h-1zM203 273h1v1h-1zM204 271h1v2h-1zM205 270h1v1h-1zM206 268h1v2h-1zM207 267h1v1h-1zM208 266h1v1h-1zM209 264h1v2h-1zM210 263h1v1h-1zM211 261h1v2h-1zM212 260h1v1h-1zM213 258h1v2h-1zM214 256h1v2h-1zM215 254h1v2h-1zM216 253h1v1h-1zM217 251h1v2h-1zM218 249h1v2h-1zM219 247h1v2h-1zM220 245h1v2h-1zM221 242h1v3h-1zM222 240h1v2h-1zM223 238h1v2h-1zM224 236h1v2h-1zM225 234h1v2h-1zM226 233h1v1h-1zM227 231h1v2h-1zM228 230h1v1h-1zM229 228h1v2h-1zM230 227h1v1h-1zM231 225h1v2h-1zM232 224h1v1h-1zM233 222h1v2h-1zM234 220h1v2h-1zM235 218h1v2h-1zM236 216h1v2h-1zM237 214h1v2h-1zM238 213h1v1h-1zM239 211h1v2h-1zM240 209h1v2h-1zM241 207h1v2h-1zM242 205h1v2h-1zM243 203h1v2h-1zM244 202h1v1h-1zM245 200h1v2h-1zM246 198h1v2h-1zM247 196h1v2h-1zM248 195h1v1h-1zM249 193h1v2h-1zM250 191h1v2h-1zM251 190h1v1h-1zM252 188h1v2h-1zM253 186h1v2h-1zM254 184h1v2h-1zM255 183h1v1h-1zM256 183h1v1h-1zM257 182h1v1h-1zM258 182h1v1h-1zM259 181h1v1h-1zM260 181h1v1h-1zM261 180h1v1h-1zM262 180h1v1h-1zM263 179h1v1h-1zM264 179h1v1h-1zM265 178h1v1h-1zM266 178h1v1h-1zM267 177h1v1h-1zM268 176h1v1h-1zM269 176h1v1h-1zM270 175h1v1h-1zM271 174h1v1h-1zM272 174h1v1h-1zM273 173h1v1h-1zM274 173h1v1h-1zM275 172h1v1h-1zM276 171h1v1h-1zM277 171h1v1h-1zM278 170h1v1h-1zM279 169h1v1h-1zM280 169h1v1h-1zM281 169h1v1h-1zM282 169h1v1h-1zM283 169h1v1h-1zM284 169h1v1h-1zM285 168h1v1h-1zM286 168h1v1h-1zM287 168h1v1h-1zM288 168h1v1h-1zM289 168h1v1h-1zM290 168h1v1h-1zM291 168h1v1h-1zM292 167h1v1h-1zM293 167h1v1h-1zM294 166h1v1h-1zM295 165h1v1h-1zM296 165h1v1h-1zM297 164h1v1h-1zM298 163h1v1h-1zM299 163h1v1h-1zM300 162h1v1h-1zM301 162h1v1h-1zM302 162h1v1h-1zM303 161h1v1h-1zM304 161h1v1h-1zM305 161h1v1h-1zM306 162h1v1h-1zM307 162h1v1h-1zM308 162h1v1h-1zM309 162h1v1h-1zM310 163h1v1h-1zM311 163h1v1h-1zM312 163h1v1h-1zM313 163h1v1h-1zM314 163h1v1h-1zM315 163h1v1h-1zM316 163h1v1h-1zM317 163h1v1h-1zM318 163h1v1h-1zM319 163h1v1h-1zM320 163h1v1h-1zM321 163h1v1h-1zM322 163h1v1h-1zM323 163h1v1h-1zM324 163h1v1h-1zM325 163h1v1h-1zM326 163h1v1h-1zM327 163h1v1h-1zM328 163h1v1h-1zM329 163h1v1h-1zM330 163h1v1h-1zM331 163h1v1h-1zM332 164h1v1h-1zM333 164h1v1h-1zM334 165h1v1h-1zM335 166h1v1h-1zM336 167h1v1h-1zM337 168h1v1h-1zM338 169h1v1h-1zM339 170h1v1h-1zM340 171h1v1h-1zM341 172h1v1h-1zM342 173h1v1h-1zM343 174h1v1h-1zM344 175h1v1h-1zM345 176h1v1h-1zM346 176h1v1h-1zM347 177h1v1h-1zM348 178h1v1h-1zM349 178h1v1h-1zM350 179h1v1h-1zM351 180h1v1h-1zM352 180h1v1h-1zM353 180h1v1h-1zM354 180h1v1h-1zM355 180h1v1h-1zM356 180h1v1h-1zM357 180h1v1h-1zM358 180h1v1h-1zM359 180h1v1h-1zM360 181h1v1h-1zM361 181h1v1h-1zM362 182h1v1h-1zM363 182h1v1h-1zM364 182h1v1h-1zM365 183h1v1h-1zM366 183h1v1h-1zM367 184h1v1h-1zM368 185h1v1h-1zM369 185h1v1h-1zM370 186h1v1h-1zM371 186h1v1h-1zM372 187h1v1h-1zM373 188h1v1h-1zM374 188h1v1h-1zM375 189h1v1h-1zM376 189h1v1h-1zM377 190h1v1h-1zM378 191h1v1h-1zM379 191h1v1h-1zM380 192h1v1h-1zM381 193h1v2h-1zM382 195h1v1h-1zM383 196h1v1h-1zM384 197h1v1h-1zM385 197h1v1h-1zM386 198h1v1h-1zM387 198h1v1h-1zM388 199h1v1h-1zM389 199h1v1h-1zM390 200h1v1h-1zM391 200h1v1h-1zM392 201h1v1h-1zM393 201h1v1h-1zM394 202h1v1h-1zM395 202h1v1h-1zM396 202h1v1h-1zM397 203h1v1h-1zM398 203h1v1h-1zM399 204h1v1h-1zM400 204h1v1h-1zM401 204h1v1h-1zM402 205h1v1h-1zM403 205h1v1h-1zM404 205h1v1h-1zM405 205h1v1h-1zM406 205h1v1h-1zM407 205h1v1h-1zM408 206h1v1h-1zM409 206h1v1h-1zM410 206h1v1h-1zM411 206h1v1h-1zM412 206h1v1h-1zM413 206h1v1h-1zM414 207h1v1h-1zM415 207h1v1h-1zM416 207h1v1h-1zM417 206h1v1h-1zM418 206h1v1h-1zM419 206h1v1h-1zM420 205h1v1h-1zM421 205h1v1h-1zM422 205h1v1h-1zM423 205h1v1h-1zM424 205h1v1h-1zM425 205h1v1h-1zM426 205h1v1h-1zM427 205h1v1h-1zM428 205h1v1h-1zM429 205h1v1h-1zM430 205h1v1h-1zM431 205h1v1h-1zM432 205h1v1h-1zM433 206h1v1h-1zM434 206h1v1h-1zM435 206h1v1h-1zM436 206h1v1h-1zM437 206h1v1h-1zM438 207h1v1h-1zM439 207h1v1h-1zM440 207h1v1h-1zM441 208h1v1h-1zM442 208h1v1h-1zM443 209h1v1h-1zM444 209h1v1h-1zM445 209h1v1h-1zM446 210h1v1h-1zM447 210h1v1h-1zM448 211h1v1h-1zM449 211h1v1h-1zM450 212h1v1h-1zM451 212h1v1h-1zM452 213h1v1h-1zM453 213h1v1h-1zM454 214h1v1h-1zM455 215h1v1h-1zM456 215h1v1h-1zM457 216h1v1h-1zM458 216h1v1h-1zM459 217h1v1h-1zM460 218h1v1h-1zM461 218h1v1h-1zM462 219h1v1h-1zM463 220h1v1h-1zM464 220h1v1h-1zM465 221h1v1h-1zM466 222h1v1h-1zM467 223h1v1h-1zM468 223h1v1h-1zM469 224h1v1h-1zM470 225h1v1h-1zM471 226h1v2h-1zM472 228h1v2h-1zM473 230h1v1h-1zM474 231h1v2h-1zM475 233h1v1h-1zM476 234h1v2h-1zM477 236h1v2h-1zM478 238h1v1h-1zM479 239h1v2h-1zM480 241h1v1h-1zM481 242h1v1h-1zM482 243h1v2h-1zM483 245h1v1h-1zM484 246h1v1h-1zM485 247h1v1h-1zM486 248h1v2h-1zM487 250h1v1h-1zM488 251h1v1h-1zM489 251h1v1h-1zM490 252h1v1h-1zM491 253h1v1h-1zM492 253h1v1h-1zM493 254h1v1h-1zM494 255h1v1h-1zM495 255h1v1h-1zM496 256h1v1h-1zM497 257h1v1h-1zM498 257h1v1h-1zM499 257h1v1h-1zM500 257h1v1h-1zM501 257h1v1h-1zM502 256h1v1h-1zM503 256h1v1h-1zM504 256h1v1h-1zM505 256h1v1h-1zM506 257h1v1h-1zM507 257h1v1h-1zM508 257h1v1h-1zM509 257h1v1h-1zM510 257h1v1h-1zM511 257h1v1h-1zM512 257h1v1h-1zM513 257h1v1h-1zM514 256h1v1h-1zM515 256h1v1h-1zM516 256h1v1h-1zM517 256h1v1h-1zM518 256h1v1h-1zM519 256h1v1h-1zM520 256h1v1h-1zM521 255h1v1h-1zM522 255h1v1h-1zM523 255h1v1h-1zM524 255h1v1h-1zM525 254h1v1h-1zM526 254h1v1h-1zM527 254h1v1h-1zM528 253h1v1h-1zM529 253h1v1h-1zM530 252h1v1h-1zM531 252h1v1h-1zM532 251h1v1h-1zM533 251h1v1h-1zM534 250h1v1h-1zM535 250h1v1h-1zM536 249h1v1h-1zM537 249h1v1h-1zM538 249h1v1h-1zM539 249h1v1h-1zM540 249h1v1h-1zM541 249h1v1h-1zM542 248h1v1h-1zM543 248h1v1h-1zM544 248h1v1h-1zM545 248h1v1h-1zM546 248h1v1h-1zM547 248h1v1h-1zM548 248h1v1h-1zM549 248h1v1h-1zM550 248h1v1h-1zM551 248h1v1h-1zM552 248h1v1h-1zM553 248h1v1h-1zM554 248h1v1h-1zM555 249h1v1h-1zM556 249h1v1h-1zM557 250h1v1h-1zM558 250h1v1h-1zM559 250h1v1h-1zM560 251h1v1h-1zM561 251h1v1h-1zM562 251h1v1h-1zM563 252h1v1h-1zM564 252h1v1h-1zM565 252h1v1h-1zM566 252h1v1h-1zM567 253h1v1h-1zM568 253h1v1h-1zM569 253h1v1h-1zM570 254h1v1h-1zM571 254h1v1h-1zM572 254h1v1h-1zM573 254h1v1h-1zM574 254h1v1h-1zM575 254h1v1h-1zM576 254h1v1h-1zM577 254h1v1h-1zM578 254h1v1h-1zM579 254h1v1h-1zM580 255h1v1h-1zM581 255h1v1h-1zM582 255h1v1h-1zM583 256h1v1h-1zM584 256h1v1h-1zM585 256h1v1h-1zM586 256h1v1h-1zM587 257h1v1h-1zM588 257h1v1h-1zM589 257h1v1h-1zM590 258h1v1h-1zM591 258h1v1h-1zM592 258h1v1h-1zM593 258h1v1h-1zM594 258h1v1h-1zM595 258h1v1h-1zM596 258h1v1h-1zM597 259h1v1h-1zM598 259h1v1h-1zM599 259h1v1h-1zM600 259h1v1h-1zM601 259h1v1h-1zM602 259h1v1h-1zM603 259h1v1h-1zM604 259h1v1h-1zM605 259h1v1h-1zM606 259h1v1h-1zM607 259h1v1h-1zM608 259h1v1h-1zM609 259h1v1h-1zM610 259h1v1h-1zM611 259h1v1h-1zM612 259h1v1h-1zM613 259h1v1h-1zM614 259h1v1h-1zM615 259h1v1h-1zM616 259h1v1h-1zM617 260h1v1h-1zM618 260h1v1h-1zM619 260h1v1h-1zM620 260h1v1h-1zM621 260h1v1h-1zM622 260h1v1h-1zM623 261h1v1h-1zM624 261h1v1h-1zM625 261h1v1h-1zM626 261h1v1h-1zM627 261h1v1h-1zM628 262h1v1h-1zM629 262h1v1h-1zM630 262h1v1h-1zM631 262h1v1h-1zM632 263h1v1h-1zM633 263h1v1h-1zM634 263h1v1h-1zM635 263h1v1h-1zM636 264h1v1h-1zM637 264h1v1h-1zM638 264h1v1h-1zM639 264h1v1h-1zM640 265h1v1h-1zM641 265h1v1h-1zM642 266h1v1h-1zM643 266h1v1h-1zM644 267h1v1h-1zM645 267h1v1h-1zM646 268h1v1h-1zM647 268h1v1h-1zM648 269h1v1h-1zM649 269h1v1h-1zM650 270h1v1h-1zM651 270h1v1h-1zM652 270h1v1h-1zM653 271h1v1h-1zM654 271h1v1h-1zM655 271h1v1h-1zM656 271h1v1h-1zM657 272h1v1h-1zM658 272h1v1h-1zM659 272h1v1h-1zM660 273h1v1h-1zM661 273h1v1h-1zM662 273h1v1h-1zM663 273h1v1h-1zM664 274h1v1h-1zM665 274h1v1h-1zM666 274h1v1h-1zM667 275h1v1h-1zM668 275h1v1h-1zM669 275h1v1h-1zM670 276h1v1h-1zM671 276h1v1h-1zM672 276h1v1h-1zM673 276h1v1h-1zM674 277h1v1h-1zM675 277h1v1h-1zM676 277h1v1h-1zM677 278h1v1h-1zM678 278h1v1h-1zM679 278h1v1h-1zM680 279h1v1h-1zM681 279h1v1h-1zM682 280h1v1h-1zM683 281h1v1h-1zM684 281h1v1h-1zM685 282h1v1h-1zM686 282h1v1h-1zM687 283h1v1h-1zM688 283h1v1h-1zM689 284h1v1h-1zM690 285h1v1h-1zM691 285h1v1h-1zM692 286h1v1h-1zM693 286h1v1h-1zM694 287h1v1h-1zM695 287h1v1h-1zM696 287h1v1h-1zM697 287h1v1h-1zM698 287h1v1h-1zM699 287h1v1h-1zM700 287h1v1h-1zM701 287h1v1h-1zM702 288h1v1h-1zM703 288h1v1h-1zM704 288h1v1h-1zM705 288h1v1h-1zM706 288h1v1h-1zM707 288h1v1h-1zM708 288h1v1h-1zM709 288h1v1h-1zM710 289h1v1h-1zM711 289h1v1h-1zM712 289h1v1h-1zM713 289h1v1h-1zM714 289h1v1h-1zM715 289h1v1h-1zM716 289h1v1h-1zM717 289h1v1h-1zM718 289h1v1h-1zM719 289h1v1h-1zM720 289h1v1h-1zM721 289h1v1h-1zM722 289h1v1h-1zM723 289h1v1h-1zM724 289h1v1h-1zM725 289h1v1h-1zM726 289h1v1h-1zM727 289h1v1h-1zM728 289h1v1h-1zM729 289h1v1h-1zM730 289h1v1h-1zM731 289h1v1h-1zM732 289h1v1h-1zM733 289h1v1h-1zM734 289h1v1h-1zM735 289h1v1h-1zM736 290h1v1h-1zM737 290h1v1h-1zM738 290h1v1h-1zM739 290h1v1h-1zM740 290h1v1h-1zM741 290h1v1h-1zM742 290h1v1h-1zM743 290h1v1h-1zM744 290h1v1h-1zM745 291h1v1h-1zM746 291h1v1h-1zM747 291h1v1h-1zM748 291h1v1h-1zM749 291h1v1h-1zM750 291h1v1h-1zM751 291h1v1h-1zM752 291h1v1h-1zM753 291h1v1h-1zM754 292h1v1h-1zM755 292h1v1h-1zM756 293h1v1h-1zM757 293h1v1h-1zM758 294h1v1h-1zM759 294h1v1h-1zM760 295h1v1h-1zM761 295h1v1h-1zM762 296h1v1h-1zM763 296h1v1h-1zM764 297h1v1h-1zM765 297h1v1h-1zM766 298h1v1h-1zM767 298h1v1h-1zM768 299h1v1h-1zM769 299h1v1h-1zM770 300h1v1h-1zM771 300h1v1h-1zM772 301h1v1h-1zM773 301h1v1h-1zM774 301h1v1h-1zM775 302h1v1h-1zM776 302h1v1h-1zM777 303h1v1h-1zM778 303h1v1h-1zM779 303h1v1h-1zM780 303h1v1h-1zM781 303h1v1h-1zM782 303h1v1h-1zM783 304h1v1h-1zM784 304h1v1h-1zM785 304h1v1h-1zM786 304h1v1h-1zM787 304h1v1h-1zM788 304h1v1h-1zM789 304h1v1h-1zM790 304h1v1h-1zM791 305h1v1h-1zM792 305h1v1h-1zM793 305h1v1h-1zM794 306h1v1h-1zM795 306h1v1h-1zM796 306h1v1h-1zM797 307h1v1h-1zM798 307h1v1h-1zM799 307h1v1h-1zM800 308h1v1h-1zM801 308h1v1h-1zM802 308h1v1h-1zM803 308h1v1h-1zM804 308h1v1h-1zM805 308h1v1h-1zM806 308h1v1h-1zM807 308h1v1h-1zM808 308h1v1h-1zM809 308h1v1h-1zM810 308h1v1h-1zM811 307h1v1h-1zM812 307h1v1h-1zM813 307h1v1h-1zM814 307h1v1h-1zM815 306h1v1h-1zM816 306h1v1h-1zM817 306h1v1h-1zM818 305h1v1h-1zM819 304h1v1h-1zM820 304h1v1h-1zM821 303h1v1h-1zM822 302h1v1h-1zM823 302h1v1h-1zM824 301h1v1h-1zM825 300h1v1h-1zM826 299h1v1h-1zM827 299h1v1h-1zM828 298h1v1h-1zM829 297h1v1h-1zM830 297h1v1h-1zM831 296h1v1h-1zM832 296h1v1h-1zM833 295h1v1h-1zM834 294h1v1h-1zM835 294h1v1h-1zM836 293h1v1h-1zM837 293h1v1h-1zM838 292h1v1h-1zM839 292h1v1h-1zM840 291h1v1h-1zM841 290h1v1h-1zM842 290h1v1h-1zM843 289h1v1h-1zM844 289h1v1h-1zM845 288h1v1h-1zM846 287h1v1h-1zM847 287h1v1h-1zM848 286h1v1h-1zM849 285h1v1h-1zM850 285h1v1h-1zM851 284h1v1h-1zM852 283h1v1h-1zM853 283h1v1h-1zM854 282h1v1h-1zM855 281h1v1h-1zM856 281h1v1h-1zM857 280h1v1h-1zM858 279h1v1h-1zM859 279h1v1h-1zM860 279h1v1h-1zM861 278h1v1h-1zM862 278h1v1h-1zM863 277h1v1h-1zM864 277h1v1h-1zM865 277h1v1h-1zM866 276h1v1h-1zM867 276h1v1h-1zM868 275h1v1h-1zM869 275h1v1h-1zM870 275h1v1h-1zM871 274h1v1h-1zM872 274h1v1h-1zM873 273h1v1h-1zM874 273h1v1h-1zM875 272h1v1h-1zM876 272h1v1h-1zM877 271h1v1h-1zM878 271h1v1h-1zM879 270h1v1h-1zM880 270h1v1h-1zM881 269h1v1h-1zM882 269h1v1h-1zM883 268h1v1h-1zM884 268h1v1h-1zM885 267h1v1h-1zM886 267h1v1h-1zM887 266h1v1h-1zM888 266h1v1h-1zM889 266h1v1h-1zM890 265h1v1h-1zM891 265h1v1h-1zM892 264h1v1h-1zM893 264h1v1h-1zM894 264h1v1h-1zM895 264h1v1h-1zM896 264h1v1h-1zM897 264h1v1h-1zM898 264h1v1h-1zM899 264h1v1h-1zM900 264h1v1h-1zM901 264h1v1h-1zM902 264h1v1h-1zM903 264h1v1h-1zM904 264h1v1h-1zM905 264h1v1h-1zM906 264h1v1h-1zM907 264h1v1h-1zM908 265h1v1h-1zM909 265h1v1h-1zM910 265h1v1h-1zM911 265h1v1h-1zM912 265h1v1h-1zM913 266h1v1h-1zM914 266h1v1h-1zM915 266h1v1h-1zM916 267h1v1h-1zM917 267h1v1h-1zM918 267h1v1h-1zM919 268h1v1h-1zM920 268h1v1h-1zM921 268h1v1h-1zM922 269h1v1h-1zM923 269h1v1h-1zM924 269h1v1h-1zM925 269h1v1h-1zM926 269h1v1h-1zM927 269h1v1h-1zM928 270h1v1h-1zM929 270h1v1h-1zM930 271h1v1h-1zM931 271h1v1h-1zM932 272h1v1h-1zM933 272h1v1h-1zM934 273h1v1h-1zM935 273h1v1h-1zM936 274h1v1h-1zM937 275h1v1h-1zM938 275h1v1h-1zM939 276h1v1h-1zM940 277h1v1h-1zM941 277h1v1h-1zM942 278h1v1h-1zM943 279h1v1h-1zM944 279h1v1h-1zM945 280h1v1h-1zM946 281h1v1h-1zM947 282h1v1h-1zM948 282h1v1h-1zM949 283h1v1h-1zM950 284h1v1h-1zM951 285h1v1h-1zM952 286h1v1h-1zM953 286h1v1h-1zM954 287h1v1h-1zM955 288h1v1h-1zM956 288h1v1h-1zM957 289h1v1h-1zM958 289h1v1h-1zM959 290h1v1h-1zM960 291h1v1h-1zM961 291h1v1h-1zM962 292h1v1h-1zM963 292h1v1h-1zM964 293h1v1h-1zM965 294h1v1h-1zM966 295h1v1h-1zM967 296h1v1h-1zM968 297h1v1h-1zM969 298h1v1h-1zM970 299h1v1h-1zM971 300h1v1h-1zM972 301h1v1h-1zM973 302h1v1h-1zM974 303h1v1h-1zM975 304h1v1h-1zM976 305h1v1h-1zM977 306h1v2h-1zM978 308h1v1h-1zM979 309h1v1h-1zM980 310h1v1h-1zM981 311h1v1h-1zM982 312h1v1h-1zM983 313h1v2h-1zM984 315h1v1h-1zM985 316h1v1h-1zM986 317h1v2h-1zM987 319h1v1h-1zM988 320h1v1h-1zM989 321h1v2h-1zM990 323h1v2h-1zM991 325h1v1h-1zM992 326h1v2h-1zM993 328h1v2h-1zM994 330h1v2h-1zM995 332h1v1h-1zM996 333h1v2h-1zM997 335h1v2h-1zM998 337h1v2h-1zM999 339h1v2h-1zM1000 341h1v2h-1zM1001 343h1v2h-1zM1002 345h1v2h-1zM1003 347h1v2h-1zM1004 349h1v2h-1zM1005 351h1v2h-1zM1006 353h1v2h-1zM1007 355h1v2h-1zM1008 357h1v2h-1zM1009 359h1v2h-1zM1010 361h1v2h-1zM1011 363h1v2h-1zM1012 365h1v1h-1zM1013 366h1v2h-1zM1014 368h1v2h-1zM1015 370h1v1h-1zM1016 371h1v1h-1z" fill="#a31a1a" shape-rendering="crispEdges"/>
<g shape-rendering="crispEdges" fill="#000">
<rect x="1" y="30" width="1025" height="1"/>
<rect x="1" y="544" width="1025" height="1"/>
<rect x="1" y="30" width="1" height="515"/>
<rect x="1025" y="30" width="1" height="515"/>
<rect x="1026" y="82" width="2" height="1"/>
<rect x="0" y="82" width="1" height="1"/>
<rect x="1026" y="142" width="2" height="1"/>
<rect x="0" y="142" width="1" height="1"/>
<rect x="1026" y="201" width="2" height="1"/>
<rect x="0" y="201" width="1" height="1"/>
<rect x="1026" y="261" width="2" height="1"/>
<rect x="0" y="261" width="1" height="1"/>
<rect x="1026" y="320" width="2" height="1"/>
<rect x="0" y="320" width="1" height="1"/>
<rect x="1026" y="380" width="2" height="1"/>
<rect x="0" y="380" width="1" height="1"/>
<rect x="1026" y="439" width="2" height="1"/>
<rect x="0" y="439" width="1" height="1"/>
<rect x="1026" y="499" width="2" height="1"/>
<rect x="0" y="499" width="1" height="1"/>
<rect x="1026" y="70" width="1" height="1"/>
<rect x="0" y="70" width="1" height="1"/>
<rect x="1026" y="58" width="1" height="1"/>
<rect x="0" y="58" width="1" height="1"/>
<rect x="1026" y="46" width="1" height="1"/>
<rect x="0" y="46" width="1" height="1"/>
<rect x="1026" y="34" width="1" height="1"/>
<rect x="0" y="34" width="1" height="1"/>
<rect x="1026" y="94" width="1" height="1"/>
<rect x="0" y="94" width="1" height="1"/>
<rect x="1026" y="106" width="1" height="1"/>
<rect x="0" y="106" width="1" height="1"/>
<rect x="1026" y="118" width="1" height="1"/>
<rect x="0" y="118" width="1" height="1"/>
<rect x="1026" y="130" width="1" height="1"/>
<rect x="0" y="130" width="1" height="1"/>
<rect x="1026" y="154" width="1" height="1"/>
<rect x="0" y="154" width="1" height="1"/>
<rect x="1026" y="166" width="1" height="1"/>
<rect x="0" y="166" width="1" height="1"/>
<rect x="1026" y="178" width="1" height="1"/>
<rect x="0" y="178" width="1" height="1"/>
<rect x="1026" y="190" width="1" height="1"/>
<rect x="0" y="190" width="1" height="1"/>
<rect x="1026" y="213" width="1" height="1"/>
<rect x="0" y="213" width="1" height="1"/>
<rect x="1026" y="225" width="1" height="1"/>
<rect x="0" y="225" width="1" height="1"/>
<rect x="1026" y="237" width="1" height="1"/>
<rect x="0" y="237" width="1" height="1"/>
<rect x="1026" y="249" width="1" height="1"/>
<rect x="0" y="249" width="1" height="1"/>
<rect x="1026" y="273" width="1" height="1"/>
<rect x="0" y="273" width="1" height="1"/>
<rect x="1026" y="285" width="1" height="1"/>
<rect x="0" y="285" width="1" height="1"/>
<rect x="1026" y="297" width="1" height="1"/>
<rect x="0" y="297" width="1" height="1"/>
<rect x="1026" y="309" width="1" height="1"/>
<rect x="0" y="309" width="1" height="1"/>
<rect x="1026" y="332" width="1" height="1"/>
<rect x="0" y="332" width="1" height="1"/>
<rect x="1026" y="344" width="1" height="1"/>
<rect x="0" y="344" width="1" height="1"/>
<rect x="1026" y="356" width="1" height="1"/>
<rect x="0" y="356" width="1" height="1"/>
<rect x="1026" y="368" width="1" height="1"/>
<rect x="0" y="368" width="1" height="1"/>
<rect x="1026" y="392" width="1" height="1"/>
<rect x="0" y="392" width="1" height="1"/>
<rect x="1026" y="404" width="1" height="1"/>
<rect x="0" y="404" width="1" height="1"/>
<rect x="1026" y="416" width="1" height="1"/>
<rect x="0" y="416" width="1" height="1"/>
<rect x="1026" y="428" width="1" height="1"/>
<rect x="0" y="428" width="1" height="1"/>
<rect x="1026" y="451" width="1" height="1"/>
<rect x="0" y="451" width="1" height="1"/>
<rect x="1026" y="463" width="1" height="1"/>
<rect x="0" y="463" width="1" height="1"/>
<rect x="1026" y="475" width="1" height="1"/>
<rect x="0" y="475" width="1" height="1"/>
<rect x="1026" y="487" width="1" height="1"/>
<rect x="0" y="487" width="1" height="1"/>
<rect x="1026" y="511" width="1" height="1"/>
<rect x="0" y="511" width="1" height="1"/>
<rect x="1026" y="523" width="1" height="1"/>
<rect x="0" y="523" width="1" height="1"/>
<rect x="1026" y="535" width="1" height="1"/>
<rect x="0" y="535" width="1" height="1"/>
<rect x="10" y="545" width="1" height="4"/>
<rect x="41" y="545" width="1" height="4"/>
<rect x="91" y="545" width="1" height="4"/>
<rect x="142" y="545" width="1" height="4"/>
<rect x="192" y="545" width="1" height="4"/>
<rect x="243" y="545" width="1" height="4"/>
<rect x="293" y="545" width="1" height="4"/>
<rect x="344" y="545" width="1" height="4"/>
<rect x="394" y="545" width="1" height="4"/>
<rect x="445" y="545" width="1" height="4"/>
<rect x="495" y="545" width="1" height="4"/>
<rect x="545" y="545" width="1" height="4"/>
<rect x="596" y="545" width="1" height="4"/>
<rect x="643" y="545" width="1" height="4"/>
<rect x="693" y="545" width="1" height="4"/>
<rect x="747" y="545" width="1" height="4"/>
<rect x="798" y="545" width="1" height="4"/>
<rect x="848" y="545" width="1" height="4"/>
<rect x="899" y="545" width="1" height="4"/>
<rect x="949" y="545" width="1" height="4"/>
<rect x="1000" y="545" width="1" height="4"/>
</g>
<g fill="#000" font-size="12.5">
<text transform="translate(1030.4,87.0) scale(1.10,1)">360</text>
<text transform="translate(1030.4,147.0) scale(1.10,1)">340</text>
<text transform="translate(1030.4,206.0) scale(1.10,1)">320</text>
<text transform="translate(1030.4,266.0) scale(1.10,1)">300</text>
<text transform="translate(1030.4,325.0) scale(1.10,1)">280</text>
<text transform="translate(1030.4,385.0) scale(1.10,1)">260</text>
<text transform="translate(1030.4,444.0) scale(1.10,1)">240</text>
<text transform="translate(1030.4,504.0) scale(1.10,1)">220</text>
</g>
<g fill="#000" font-size="12.5" text-anchor="middle">
<text transform="translate(43.7,562) scale(1.07,1)">Apr</text>
<text transform="translate(93.7,562) scale(1.07,1)">Jul</text>
<text transform="translate(144.7,562) scale(1.07,1)">Oct</text>
<text transform="translate(193.6,562) scale(1.07,1)">2011</text>
<text transform="translate(245.7,562) scale(1.07,1)">Apr</text>
<text transform="translate(295.7,562) scale(1.07,1)">Jul</text>
<text transform="translate(346.7,562) scale(1.07,1)">Oct</text>
<text transform="translate(395.6,562) scale(1.07,1)">2012</text>
<text transform="translate(447.7,562) scale(1.07,1)">Apr</text>
<text transform="translate(497.7,562) scale(1.07,1)">Jul</text>
<text transform="translate(547.7,562) scale(1.07,1)">Oct</text>
<text transform="translate(597.6,562) scale(1.07,1)">2013</text>
<text transform="translate(645.7,562) scale(1.07,1)">Apr</text>
<text transform="translate(695.7,562) scale(1.07,1)">Jul</text>
<text transform="translate(749.7,562) scale(1.07,1)">Oct</text>
<text transform="translate(799.6,562) scale(1.07,1)">2014</text>
<text transform="translate(850.7,562) scale(1.07,1)">Apr</text>
<text transform="translate(901.7,562) scale(1.07,1)">Jul</text>
<text transform="translate(951.7,562) scale(1.07,1)">Oct</text>
<text transform="translate(1001.6,562) scale(1.07,1)">2015</text>
</g>
<text transform="translate(10.90,20.7) scale(1.0723,1)" font-size="16" fill="#000" stroke="#000" stroke-width="0.3">CRB</text>
<text transform="translate(51.43,20.7) scale(1.0649,1)" font-size="16" fill="#000" stroke="#000" stroke-width="0.3">Index</text>
<text transform="translate(99.92,20.7) scale(1.0333,1)" font-size="16" fill="#000" stroke="#000" stroke-width="0.3">NYFE</text>
<text transform="translate(150.15,20.7) scale(1.0960,1)" font-size="16" fill="#000" stroke="#000" stroke-width="0.3">(CRY</text>
<text transform="translate(198.24,20.7) scale(1.0762,1)" font-size="16" fill="#000" stroke="#000" stroke-width="0.3">INDEX)</text>
<text transform="translate(262.95,20.7) scale(1.0737,1)" font-size="16" fill="#000" stroke="#000" stroke-width="0.3">220.4401</text>
<text transform="translate(343.57,20.7) scale(1.0394,1)" font-size="16" fill="#0000ff" stroke="#0000ff" stroke-width="0.3">1.6</text>
<text transform="translate(984.70,19.8) scale(1.0620,1)" font-size="14.5" fill="#000" stroke="#000" stroke-width="0.1">2015-02-02</text>
<rect x="10" y="31" width="46" height="17" fill="#fff"/>
<rect x="10" y="50" width="57" height="18" fill="#fff"/>
<text transform="translate(10.40,44.6) scale(1.0000,1)" font-size="14" fill="#0000ff">Weekly</text>
<text transform="translate(10.20,64.8) scale(1.0000,1)" font-size="14" fill="#a52a2a">EMA 200</text>
<text transform="translate(-0.60,590) scale(1.0580,1)" font-size="15" fill="#0000ff">www.fullertreacymoney.com</text>
<text transform="translate(625.40,589.7) scale(1.1900,1)" font-size="10.5" fill="#8c8c8c" stroke="#8c8c8c" stroke-width="0.15">This website is ©</text>
<text transform="translate(723.50,589.7) scale(1.2500,1)" font-size="10.5" fill="#8c8c8c" stroke="#8c8c8c" stroke-width="0.15">2008-2015</text>
<text transform="translate(790.50,589.7) scale(1.1840,1)" font-size="10.5" fill="#8c8c8c" stroke="#8c8c8c" stroke-width="0.15">Fuller Treacy Money plc. All rights reserved.</text>
</svg></body></html>
